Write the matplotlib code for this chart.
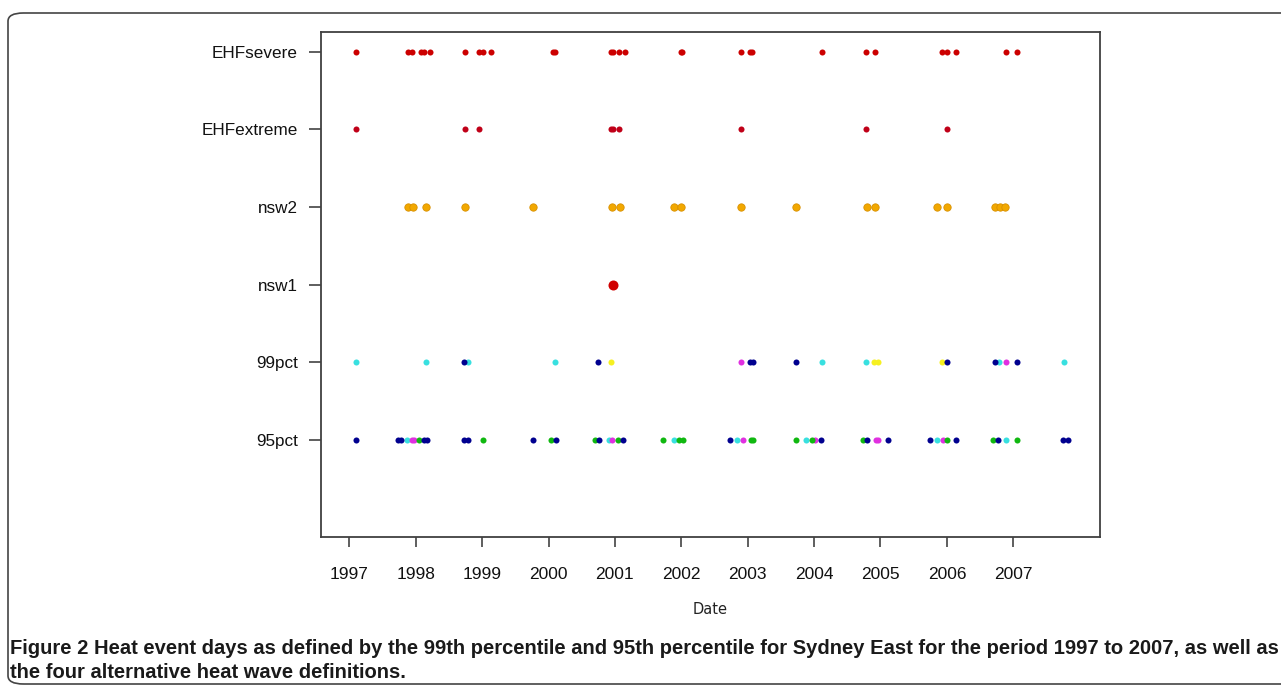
import matplotlib
matplotlib.use("Agg")
import matplotlib.pyplot as plt
from matplotlib.patches import FancyBboxPatch
from matplotlib import font_manager

# ---- data (decimal years) ----
categories = ["95pct", "99pct", "nsw1", "nsw2", "EHFextreme", "EHFsevere"]
year_ticks = [1997, 1998, 1999, 2000, 2001, 2002, 2003, 2004, 2005, 2006, 2007]

ehf_severe = [1997.10, 1997.88, 1997.94, 1998.08, 1998.12, 1998.22, 1998.74, 1998.95,
              1999.01, 1999.13, 2000.07, 2000.10, 2000.94, 2000.97, 2001.06, 2001.15,
              2002.00, 2002.01, 2002.90, 2003.03, 2003.06, 2004.12, 2004.78, 2004.92,
              2005.93, 2006.00, 2006.14, 2006.89, 2007.06]
ehf_extreme = [1997.10, 1998.74, 1998.95, 2000.94, 2000.97, 2001.06, 2002.90, 2004.78, 2006.00]
nsw2 = [1997.88, 1997.96, 1998.16, 1998.74, 1999.77, 2000.96, 2001.08, 2001.89, 2002.00,
        2002.90, 2003.73, 2004.79, 2004.92, 2005.85, 2006.00, 2006.72, 2006.80, 2006.87]
nsw1 = [2000.97]

p99_cyan = [1997.10, 1998.16, 1998.79, 2000.10, 2004.12, 2004.78, 2006.78, 2007.76]
p99_navy = [1998.73, 2000.75, 2003.03, 2003.08, 2003.73, 2006.00, 2006.72, 2007.06]
p99_yellow = [2000.94, 2004.90, 2004.96, 2005.93]
p99_magenta = [2002.90, 2006.89]

p95_navy = [1997.10, 1997.73, 1997.78, 1998.12, 1998.17, 1998.73, 1998.79, 1999.77, 2000.11,
            2000.76, 2001.12, 2002.73, 2004.10, 2004.79, 2005.11, 2005.74, 2006.14, 2006.77,
            2007.75, 2007.82]
p95_cyan = [1997.87, 2000.91, 2001.89, 2002.84, 2003.88, 2005.85, 2006.89]
p95_magenta = [1997.94, 1997.98, 2000.96, 2002.93, 2004.02, 2004.93, 2004.96, 2005.94]
p95_green = [1998.05, 1999.01, 2000.04, 2000.70, 2001.05, 2001.72, 2001.97, 2002.02, 2003.05,
             2003.08, 2003.73, 2003.97, 2004.73, 2006.00, 2006.69, 2007.06]

W, H = 1281, 686
fig = plt.figure(figsize=(W / 100, H / 100), dpi=100)
fig.patch.set_facecolor("white")

# outer rounded frame
frame = FancyBboxPatch((8 / W, 1 - 684 / H), (1400 - 8) / W, (684 - 13) / H,
                       boxstyle="round,pad=0,rounding_size=0.012",
                       transform=fig.transFigure, fill=False, edgecolor="#444444",
                       linewidth=1.2, clip_on=False)
fig.patches.append(frame)

ax = fig.add_axes([320.7 / W, 1 - 537.3 / H, (1100 - 320.7) / W, (537.3 - 32.3) / H])

ypos = {c: i + 1 for i, c in enumerate(categories)}

def row(vals, cat, color, s=19, edge=None):
    ax.scatter(vals, [ypos[cat]] * len(vals), s=s, color=color,
               edgecolors=edge if edge else color, linewidths=0.6 if edge else 0, zorder=3)

row(ehf_severe, "EHFsevere", "#CC0000")
row(ehf_extreme, "EHFextreme", "#C00018")
row(nsw2, "nsw2", "#F2A800", s=28, edge="#D89000")
row(nsw1, "nsw1", "#D00000", s=52)

row(p99_cyan, "99pct", "#38E0E0")
row(p99_yellow, "99pct", "#F6F020")
row(p99_magenta, "99pct", "#E030E0")
row(p99_navy, "99pct", "#00008F")

row(p95_cyan, "95pct", "#38E0E0")
row(p95_magenta, "95pct", "#E030E0")
row(p95_green, "95pct", "#10B810")
row(p95_navy, "95pct", "#00008F")

ax.set_xlim(1996.569, 2008.306)
ax.set_ylim(-0.25, 6.25)
ax.set_xticks(year_ticks)
ax.set_xticklabels([str(y) for y in year_ticks], family="Liberation Sans", fontsize=12.5)
ax.set_yticks([ypos[c] for c in categories])
ax.set_yticklabels(categories, family="Liberation Sans", fontsize=12.3)
ax.tick_params(axis="x", direction="out", length=7.5, width=1.1, pad=14, colors="#333333",
               labelcolor="#111111")
ax.tick_params(axis="y", direction="out", length=8.5, width=1.1, pad=8, colors="#333333",
               labelcolor="#111111")
for sp in ax.spines.values():
    sp.set_color("#404040")
    sp.set_linewidth(1.3)

fig.text(710 / W, 1 - 609 / H, "Date", ha="center", va="center",
         family="DejaVu Sans", fontsize=10.5, color="#222222")

# caption
names = {f.name for f in font_manager.fontManager.ttflist}
cap_family = "Liberation Sans Narrow" if "Liberation Sans Narrow" in names else "Liberation Sans"
line1 = ("Figure 2 Heat event days as defined by the 99th percentile and 95th percentile "
         "for Sydney East for the period 1997 to 2007, as well as")
line2 = "the four alternative heat wave definitions."
t1 = fig.text(10 / W, 1 - 649 / H, line1, ha="left", va="center", family=cap_family,
              fontweight="bold", fontsize=13, color="#1a1a1a")
fig.canvas.draw()
r = fig.canvas.get_renderer()
w = t1.get_window_extent(r).width
fs = min(13 * 1265 / w, 15)
t1.set_fontsize(fs)
fig.text(10 / W, 1 - 672 / H, line2, ha="left", va="center", family=cap_family,
         fontweight="bold", fontsize=fs, color="#1a1a1a")

fig.savefig("out.png", dpi=100, facecolor="white")
